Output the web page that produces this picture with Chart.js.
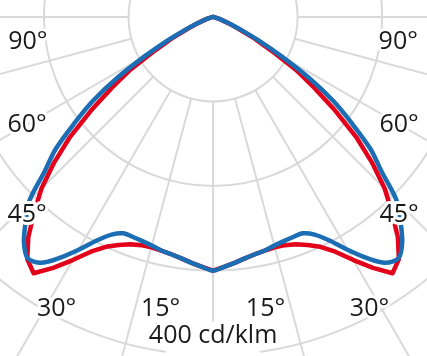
<!DOCTYPE html>
<html>
<head>
<meta charset="utf-8">
<style>
  html, body { margin: 0; padding: 0; background: #fff; }
  canvas { display: block; }
</style>
<script src="https://cdn.jsdelivr.net/npm/chart.js@4.4.1/dist/chart.umd.min.js"></script>
</head>
<body>
<canvas id="ldc" width="427" height="356"></canvas>
<script>
// gamma angles (deg) from nadir, curves are mirrored to both sides
const angles = [0, 2.5, 5, 7.5, 10, 12.5, 15, 17.5, 20, 22.5, 25, 27.5, 30, 32.5, 35, 37.5, 40, 42.5, 45,
  47.5, 50, 52.5, 55, 57.5, 60, 62.5, 65, 67.5, 70, 72.5, 75, 77.5, 80, 82.5, 85, 87.5, 90];
// cd/klm
const planeC90 = [300, 296, 292, 288, 285, 283, 280, 278, 277, 277, 284, 298, 318, 338, 355, 360, 348, 328, 307,
  270, 243, 207, 174, 135, 94, 62, 37, 22, 12, 7, 3, 1, 0, 0, 0, 0, 0];
const planeC0 = [300, 296, 292, 288, 285, 283, 282, 283, 286, 292, 300, 313, 332, 352, 370, 361, 340, 313, 287,
  255, 221, 182, 146, 116, 79, 55, 33, 20, 12, 6, 2, 0, 0, 0, 0, 0, 0];

const gridRadii = [100, 200, 300, 400];
const gridAngles = [-90, -75, -60, -45, -30, -15, 0, 15, 30, 45, 60, 75, 90];
const angleLabels = ['90°', '60°', '45°', '30°', '15°'];
const unitLabel = '400 cd/klm';

// label anchors in cd/klm units (layout only)
const labelPos = [[219, -30], [220, -128], [220, -234], [185, -345], [62, -345]];
const unitPos = [0, -377];

function toPoints(vals) {
  const pts = [];
  for (let i = angles.length - 1; i >= 0; i--) {
    const a = angles[i] * Math.PI / 180;
    pts.push({ x: -vals[i] * Math.sin(a), y: -vals[i] * Math.cos(a) });
  }
  for (let i = 1; i < angles.length; i++) {
    const a = angles[i] * Math.PI / 180;
    pts.push({ x: vals[i] * Math.sin(a), y: -vals[i] * Math.cos(a) });
  }
  return pts;
}

const polarGrid = {
  id: 'polarGrid',
  beforeDatasetsDraw(chart) {
    const ctx = chart.ctx, xs = chart.scales.x, ys = chart.scales.y;
    const cx = xs.getPixelForValue(0), cy = ys.getPixelForValue(0);
    const k = (xs.getPixelForValue(100) - cx) / 100;
    ctx.save();
    ctx.strokeStyle = '#d9d9d9';
    ctx.lineWidth = 2;
    gridRadii.forEach((r) => {
      ctx.beginPath();
      ctx.arc(cx, cy, r * k, 0, Math.PI * 2);
      ctx.stroke();
    });
    gridAngles.forEach((g) => {
      const a = g * Math.PI / 180;
      ctx.beginPath();
      ctx.moveTo(cx + Math.sin(a) * gridRadii[0] * k, cy + Math.cos(a) * gridRadii[0] * k);
      ctx.lineTo(cx + Math.sin(a) * 800 * k, cy + Math.cos(a) * 800 * k);
      ctx.stroke();
    });
    ctx.restore();
  },
  afterDatasetsDraw(chart) {
    const ctx = chart.ctx, xs = chart.scales.x, ys = chart.scales.y;
    ctx.save();
    ctx.font = '25px "Open Sans"';
    ctx.textAlign = 'center';
    ctx.textBaseline = 'middle';
    ctx.lineJoin = 'round';
    ctx.strokeStyle = '#fff';
    ctx.lineWidth = 6;
    ctx.fillStyle = '#1a1a1a';
    angleLabels.forEach((t, i) => {
      [-1, 1].forEach((s) => {
        const px = xs.getPixelForValue(s * labelPos[i][0]);
        const py = ys.getPixelForValue(labelPos[i][1]);
        ctx.strokeText(t, px, py);
        ctx.fillText(t, px, py);
      });
    });
    const ux = xs.getPixelForValue(unitPos[0]), uy = ys.getPixelForValue(unitPos[1]);
    ctx.fillStyle = '#fff';
    ctx.fillRect(ux - 47, uy - 14, 94, 40);
    ctx.fillStyle = '#1a1a1a';
    ctx.strokeText(unitLabel, ux, uy);
    ctx.fillText(unitLabel, ux, uy);
    ctx.restore();
  }
};

new Chart(document.getElementById('ldc'), {
  type: 'scatter',
  data: {
    datasets: [
      {
        label: 'C90-C270',
        data: toPoints(planeC90),
        showLine: true,
        borderColor: '#1b6db4',
        borderWidth: 4.5,
        tension: 0.3,
        borderJoinStyle: 'round',
        borderCapStyle: 'round',
        pointRadius: 0
      },
      {
        label: 'C0-C180',
        data: toPoints(planeC0),
        showLine: true,
        borderColor: '#e2001a',
        borderWidth: 4.5,
        tension: 0,
        borderJoinStyle: 'round',
        borderCapStyle: 'round',
        pointRadius: 0
      }
    ]
  },
  options: {
    responsive: false,
    animation: false,
    devicePixelRatio: 1,
    layout: { padding: 0 },
    plugins: { legend: { display: false }, tooltip: { enabled: false } },
    scales: {
      x: { type: 'linear', min: -252, max: 253, display: false },
      y: { type: 'linear', min: -401, max: 20, display: false }
    }
  },
  plugins: [polarGrid]
});
</script>
</body>
</html>
